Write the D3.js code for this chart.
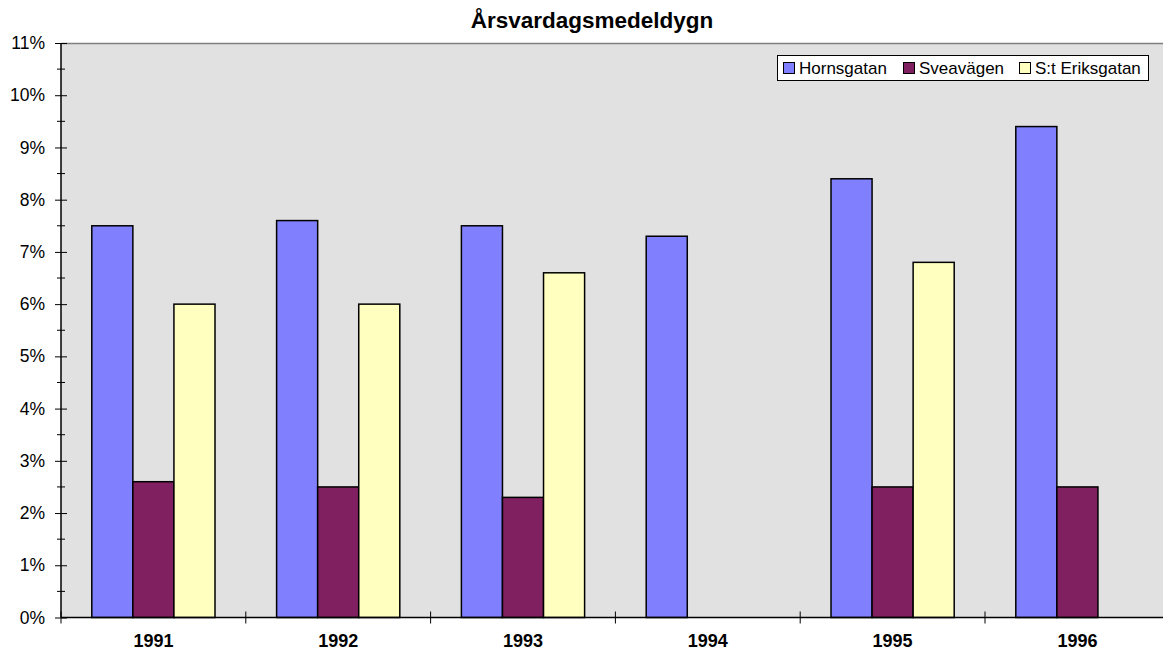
<!DOCTYPE html>
<html>
<head>
<meta charset="utf-8">
<script src="https://cdn.jsdelivr.net/npm/d3@7"></script>
<style>
  body { margin: 0; background: #fff; }
  svg { display: block; font-family: "Liberation Sans", Arial, sans-serif; }
</style>
</head>
<body>
<svg id="chart" width="1163" height="652"></svg>
<script>
// data (percent)
var years = ['1991', '1992', '1993', '1994', '1995', '1996'];
var seriesNames = ['Hornsgatan', 'Sveavägen', 'S:t Eriksgatan'];
var hornsgatan = [7.5, 7.6, 7.5, 7.3, 8.4, 9.4];
var sveavagen = [2.6, 2.5, 2.3, null, 2.5, 2.5];
var eriksgatan = [6.0, 6.0, 6.6, null, 6.8, null];
var yTicks = [0, 1, 2, 3, 4, 5, 6, 7, 8, 9, 10, 11];
var colors = ['#8080ff', '#802060', '#ffffc0'];

var values = [hornsgatan, sveavagen, eriksgatan];
var svg = d3.select('#chart');

// note: "top" is taken by window.top, so plot* names
var plotLeft = 61, plotTop = 43, plotBottom = 617.5;
var catW = 184.8;
var plotRight = plotLeft + catW * years.length; // plot runs past the picture edge

var x0 = d3.scaleBand().domain(years).range([plotLeft, plotRight]);
var x1 = d3.scaleBand().domain(seriesNames).range([0, x0.bandwidth()])
  .paddingInner(0).paddingOuter(0.75);
var y = d3.scaleLinear().domain([0, 11]).range([plotBottom, plotTop]);

// plot area
svg.append('rect')
  .attr('x', plotLeft).attr('y', plotTop)
  .attr('width', plotRight - plotLeft).attr('height', plotBottom - plotTop)
  .attr('fill', '#e1e1e1');
svg.append('line')
  .attr('x1', plotLeft).attr('x2', plotRight)
  .attr('y1', plotTop + 0.5).attr('y2', plotTop + 0.5)
  .attr('stroke', '#808080').attr('stroke-width', 1.5);

// bars
var rows = [];
years.forEach(function(yr, i) {
  seriesNames.forEach(function(s, j) {
    if (values[j][i] !== null) rows.push({year: yr, series: s, idx: j, v: values[j][i]});
  });
});
svg.append('g').selectAll('rect')
  .data(rows)
  .enter().append('rect')
  .attr('x', function(d) { return x0(d.year) + x1(d.series); })
  .attr('y', function(d) { return y(d.v); })
  .attr('width', x1.bandwidth())
  .attr('height', function(d) { return plotBottom - y(d.v); })
  .attr('fill', function(d) { return colors[d.idx]; })
  .attr('stroke', '#000').attr('stroke-width', 1.5);

// y axis
var yAxis = svg.append('g').attr('transform', 'translate(' + plotLeft + ',0)')
  .call(d3.axisLeft(y).tickValues(yTicks).tickSize(6).tickPadding(10)
    .tickFormat(function(d) { return d + '%'; }));
yAxis.select('.domain').remove();
yAxis.selectAll('.tick line').attr('x1', -6).attr('x2', 6).attr('stroke', '#000');
yAxis.selectAll('.tick text')
  .attr('font-size', 17.5).attr('font-family', '"Liberation Sans", Arial, sans-serif')
  .attr('fill', '#000').attr('x', -16);
var minor = d3.range(0.5, 11, 1);
yAxis.selectAll('.minor').data(minor).enter().append('line')
  .attr('class', 'minor')
  .attr('x1', -4).attr('x2', 4)
  .attr('y1', function(d) { return y(d); }).attr('y2', function(d) { return y(d); })
  .attr('stroke', '#000');
yAxis.append('line')
  .attr('x1', 0).attr('x2', 0).attr('y1', plotTop).attr('y2', plotBottom)
  .attr('stroke', '#000').attr('stroke-width', 1.5);

// x axis
var xg = svg.append('g');
xg.append('line')
  .attr('x1', plotLeft).attr('x2', plotRight).attr('y1', plotBottom).attr('y2', plotBottom)
  .attr('stroke', '#000').attr('stroke-width', 1.5);
var bounds = years.map(function(yr) { return x0(yr); }).concat([plotRight]);
xg.selectAll('.xt').data(bounds).enter().append('line')
  .attr('class', 'xt')
  .attr('x1', function(d) { return d; }).attr('x2', function(d) { return d; })
  .attr('y1', plotBottom - 6).attr('y2', plotBottom + 6)
  .attr('stroke', '#000');
xg.selectAll('text').data(years).enter().append('text')
  .attr('x', function(d) { return x0(d) + x0.bandwidth() / 2; })
  .attr('y', 647)
  .attr('text-anchor', 'middle')
  .attr('font-size', 18).attr('font-weight', 'bold')
  .text(function(d) { return d; });

// title
svg.append('text')
  .attr('x', 592).attr('y', 28)
  .attr('text-anchor', 'middle')
  .attr('font-size', 22.5).attr('font-weight', 'bold')
  .text('Årsvardagsmedeldygn');

// legend
var lg = svg.append('g');
lg.append('rect')
  .attr('x', 777.5).attr('y', 55.5).attr('width', 371).attr('height', 25)
  .attr('fill', '#fff').attr('stroke', '#000');
var legX = [783, 903, 1019];
seriesNames.forEach(function(s, i) {
  lg.append('rect')
    .attr('x', legX[i] + 0.5).attr('y', 62.5).attr('width', 11).attr('height', 11)
    .attr('fill', colors[i]).attr('stroke', '#000');
  lg.append('text')
    .attr('x', legX[i] + 16).attr('y', 74)
    .attr('font-size', 17)
    .text(s);
});
</script>
</body>
</html>
